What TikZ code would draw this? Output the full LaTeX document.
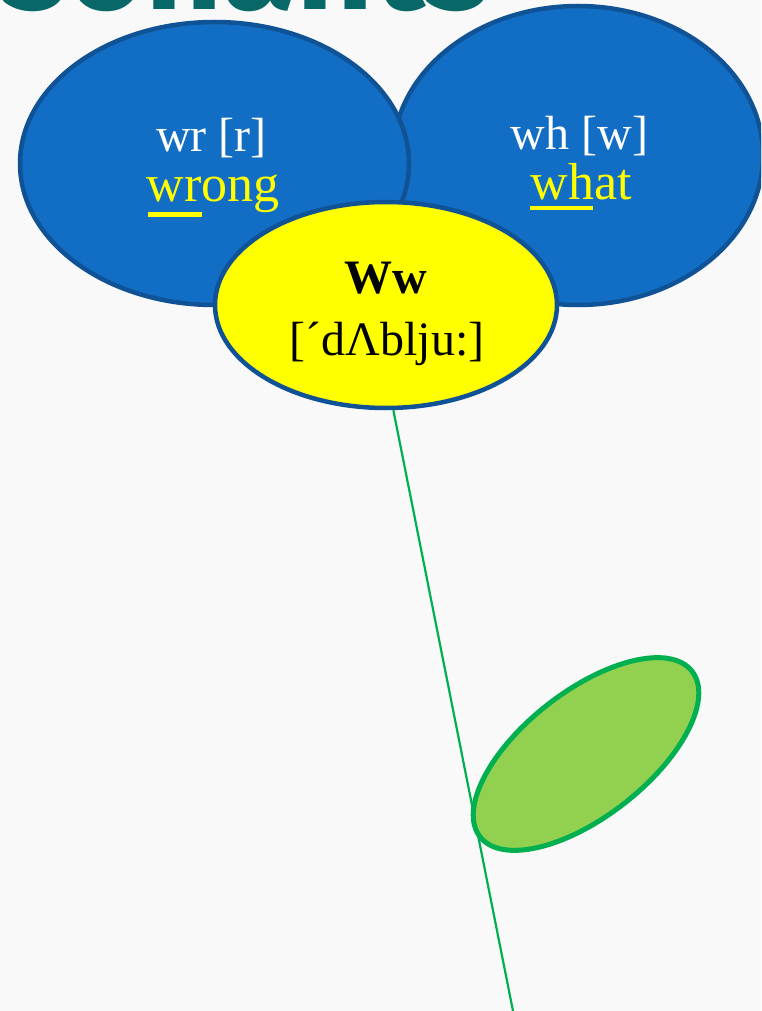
\documentclass[tikz,border=0pt]{standalone}
\usepackage{fontspec}
\setmainfont{Liberation Serif}
\newfontfamily\titlefont{Fira Sans}
\usetikzlibrary{shapes.geometric}
\definecolor{petal}{RGB}{18,110,196}
\definecolor{petalline}{RGB}{16,82,150}
\definecolor{titleteal}{RGB}{8,104,104}
\definecolor{stemgreen}{RGB}{0,176,80}
\definecolor{leafgreen}{RGB}{146,208,80}
\definecolor{bgpaper}{RGB}{249,249,249}
\definecolor{lineyellow}{RGB}{255,255,0}
\begin{document}
\begin{tikzpicture}[x=1pt,y=-1pt,
  petalstyle/.style={ellipse, draw=petalline, line width=4.5pt, fill=petal, inner sep=0pt},
  centerstyle/.style={ellipse, draw=petalline, line width=4.5pt, fill=lineyellow, inner sep=0pt},
  leafstyle/.style={ellipse, draw=stemgreen, line width=5pt, fill=leafgreen, inner sep=0pt},
  bigtext/.style={anchor=base, inner sep=0pt, font=\fontsize{48}{48}\selectfont},
  wordtext/.style={anchor=base, inner sep=0pt, text=lineyellow, font=\fontsize{52}{52}\selectfont},
  stemstyle/.style={draw=stemgreen, line width=2.2pt}]
\fill[bgpaper] (0,0) rectangle (761,1011);
\useasboundingbox (0,0) rectangle (761,1011);
\clip (0,0) rectangle (761,1011);
% title (cut off at top, as in the reference)
\node[anchor=base east, inner sep=0pt, text=titleteal,
      font=\titlefont\bfseries\fontsize{134}{134}\selectfont] (title) at (490,10) {sonants};
% petals
\node[petalstyle, minimum width=370pt, minimum height=299pt] (right) at (578,155.5) {};
\node[petalstyle, minimum width=389pt, minimum height=283pt] (left) at (214.5,163.5) {};
% stem
\coordinate (stemend) at (513,1011);
% center
\node[centerstyle, minimum width=342pt, minimum height=206pt] (center) at (386,305) {};
\draw[stemstyle] (center.-86) -- (stemend);
% leaf
\node[leafstyle, rotate=38, minimum width=269pt, minimum height=125pt] (leaf) at (586,754) {};
% texts
\node[bigtext, text=white] (wrlabel) at (211.5,152) {wr [r]};
\node[wordtext] (wrong) at (213,201) {wrong};
\node[bigtext, text=white] (whlabel) at (579.5,150) {wh [w]};
\node[wordtext] (what) at (581,200) {what};
\node[bigtext, text=black, font=\fontsize{48}{48}\selectfont\bfseries] (ww) at (386,293) {Ww};
\node[bigtext, text=black] (ipa) at (387,355) {[´dΛblju:]};
% underlines
\fill[lineyellow] (148,212) rectangle (202,216.5);
\fill[lineyellow] (530,205.5) rectangle (593,209.5);
\end{tikzpicture}
\end{document}
